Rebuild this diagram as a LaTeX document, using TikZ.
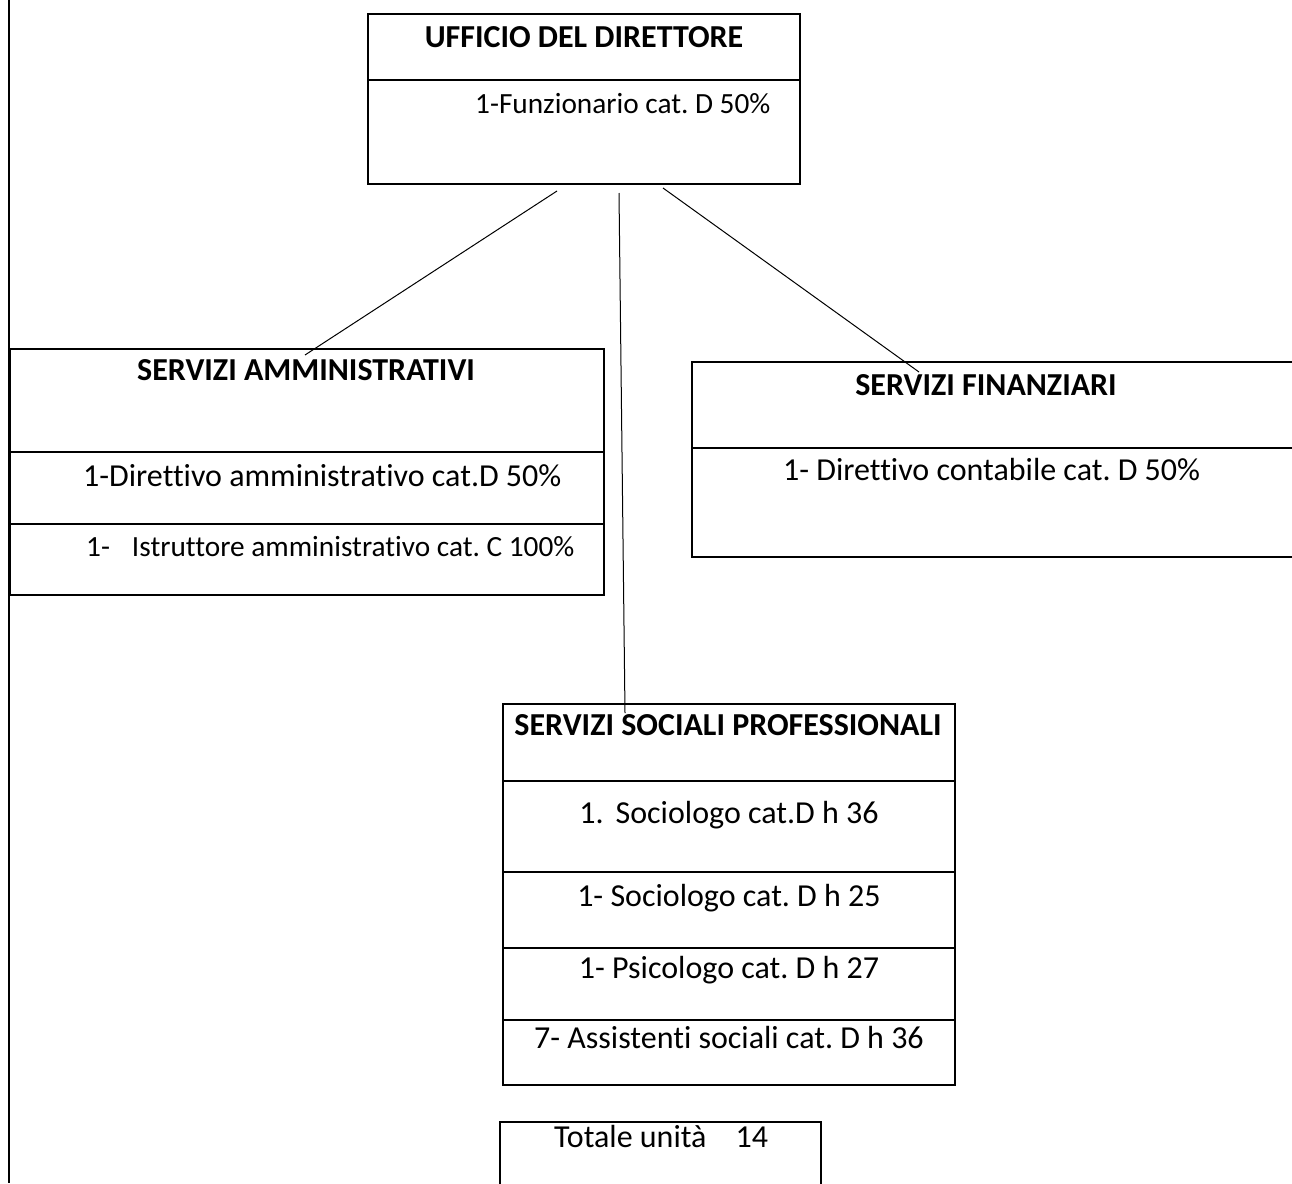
\documentclass[tikz,border=0pt]{standalone}
\usepackage{fontspec}
\setmainfont{Carlito}[Ligatures=NoCommon]
\begin{document}
\begin{tikzpicture}[x=1pt,y=-1pt,
  box/.style={draw, line width=2.2pt, inner sep=0pt, outer sep=0pt, anchor=north west},
  sep/.style={line width=2.2pt},
  link/.style={line width=1pt},
  lbl/.style={inner sep=0pt, font=\fontsize{32}{38}\selectfont\frenchspacing},
  lbls/.style={inner sep=0pt, font=\fontsize{29.3}{35}\selectfont\frenchspacing},
  ttl/.style={inner sep=0pt, font=\fontsize{32}{38}\selectfont\bfseries\frenchspacing},
]
\useasboundingbox (0,0) rectangle (1292,1183);
\clip (0,0) rectangle (1292,1183);
\fill[white] (0,0) rectangle (1292,1183);

% page edge
\draw[line width=2.5pt] (9,0) -- (9,1183);

% boxes
\node[box, minimum width=432pt, minimum height=170pt] (dir) at (368,14) {};
\node[box, minimum width=594pt, minimum height=246pt] (sa) at (10,349) {};
\node[box, minimum width=640pt, minimum height=195pt] (sf) at (692,362) {};
\node[box, minimum width=452pt, minimum height=381pt] (ssp) at (503,704) {};
\node[box, minimum width=321pt, minimum height=90pt] (tot) at (500,1122) {};

% dividers
\draw[sep] (368,80) -- (800,80);
\draw[sep] (10,452) -- (604,452);
\draw[sep] (10,524) -- (604,524);
\draw[sep] (692,448) -- (1300,448);
\draw[sep] (503,781) -- (955,781);
\draw[sep] (503,872) -- (955,872);
\draw[sep] (503,948) -- (955,948);
\draw[sep] (503,1020) -- (955,1020);

% texts
\node[ttl, anchor=base] (dirT) at (584,47) {UFFICIO DEL DIRETTORE};
\node[lbls, anchor=base west] (dir1) at (475,113) {1-Funzionario cat. D 50\%};

\node[ttl, anchor=base] (saT) at (306,380) {SERVIZI AMMINISTRATIVI};
\node[lbl, anchor=base west] (sa1) at (83,486) {1-Direttivo amministrativo cat.D 50\%};
\node[lbls, anchor=base west] (sa2) at (86,556) {1-\hspace{22pt}Istruttore amministrativo cat. C 100\%};

\node[ttl, anchor=base] (sfT) at (986,395) {SERVIZI FINANZIARI};
\node[lbl, anchor=base west] (sf1) at (783,480) {1- Direttivo contabile cat. D 50\%};

\node[ttl, anchor=base] (sspT) at (728,735) {SERVIZI SOCIALI PROFESSIONALI};
\node[lbl, anchor=base] (ssp1) at (729,823) {1.\hspace{12pt}Sociologo cat.D h 36};
\node[lbl, anchor=base] (ssp2) at (729,906) {1- Sociologo cat. D h 25};
\node[lbl, anchor=base] (ssp3) at (729,978) {1- Psicologo cat. D h 27};
\node[lbl, anchor=base] (ssp4) at (729,1048) {7- Assistenti sociali cat. D h 36};

\node[lbl, anchor=base west] (totT) at (554,1147) {Totale unità\hspace{29pt}14};

% connectors
\coordinate (c1a) at (557,191);
\coordinate (c1b) at (305,355);
\coordinate (c2a) at (619,193);
\coordinate (c2b) at (625,713);
\coordinate (c3a) at (663,188);
\coordinate (c3b) at (919,372);
\draw[link] (c1a) -- (c1b);
\draw[link] (c2a) -- (c2b);
\draw[link] (c3a) -- (c3b);
\end{tikzpicture}
\end{document}
